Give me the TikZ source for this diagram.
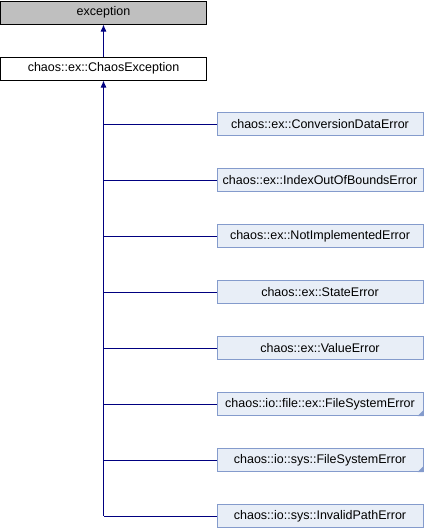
\documentclass[tikz,border=0pt]{standalone}
\usepackage{fontspec}
\setmainfont{Liberation Sans}
\usepackage{xcolor}
\usepackage{tikz}
\usetikzlibrary{arrows.meta}

\definecolor{boxfill}{RGB}{232,238,247}
\definecolor{boxline}{RGB}{132,155,204}
\definecolor{basefill}{RGB}{191,191,191}
\definecolor{edgeblue}{RGB}{0,0,128}

\tikzset{
  cls/.style={draw, line width=1pt, minimum width=206pt, minimum height=23pt,
    inner sep=0pt, font=\fontsize{12.5}{14}\selectfont},
  basecls/.style={cls, draw=black, fill=basefill},
  rootcls/.style={cls, draw=black, fill=white},
  subcls/.style={cls, draw=boxline, fill=boxfill},
  edge/.style={draw=edgeblue, line width=1pt},
  inherit/.style={edge, -{Latex[length=7pt,width=6pt]}},
}

\begin{document}
\begin{tikzpicture}[x=1pt, y=-1pt]
  \useasboundingbox (0,0) rectangle (424,528);
  %% base classes
  \node[basecls] (exc) at (103.5,12.5) {exception};
  \node[rootcls] (chaos) at (103.5,68.5) {chaos::ex::ChaosException};
  \draw[inherit] (chaos.north) -- (exc.south);
  %% derived classes
  \node[subcls] (cde) at (320,124) {chaos::ex::ConversionDataError};
  \node[subcls] (ioob) at (320,180) {chaos::ex::IndexOutOfBoundsError};
  \node[subcls] (nie) at (320,236) {chaos::ex::NotImplementedError};
  \node[subcls] (ste) at (320,292) {chaos::ex::StateError};
  \node[subcls] (vae) at (320,348) {chaos::ex::ValueError};
  \node[subcls] (ffse) at (320,404) {chaos::io::file::ex::FileSystemError};
  \node[subcls] (sfse) at (320,460) {chaos::io::sys::FileSystemError};
  \node[subcls] (ipe) at (320,516) {chaos::io::sys::InvalidPathError};
  %% more subclasses marker
  \fill[boxline] (ffse.south east) -- ++(-6pt,0pt) -- ++(6pt,6pt) -- cycle;
  \fill[boxline] (sfse.south east) -- ++(-6pt,0pt) -- ++(6pt,6pt) -- cycle;
  %% trunk and branches
  \draw[inherit] (ipe.west -| chaos.south) -- (chaos.south);
  \draw[edge] (cde.west) -- (cde.west -| chaos.south);
  \draw[edge] (ioob.west) -- (ioob.west -| chaos.south);
  \draw[edge] (nie.west) -- (nie.west -| chaos.south);
  \draw[edge] (ste.west) -- (ste.west -| chaos.south);
  \draw[edge] (vae.west) -- (vae.west -| chaos.south);
  \draw[edge] (ffse.west) -- (ffse.west -| chaos.south);
  \draw[edge] (sfse.west) -- (sfse.west -| chaos.south);
  \draw[edge] (ipe.west) -- (ipe.west -| chaos.south);
\end{tikzpicture}
\end{document}
